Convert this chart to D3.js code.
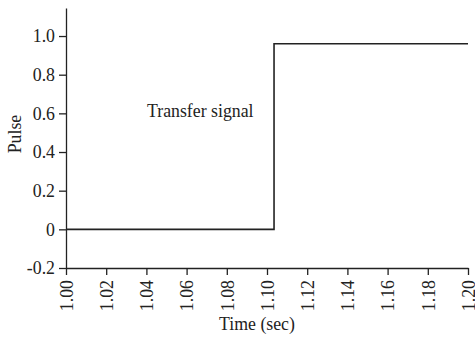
<!DOCTYPE html>
<html>
<head>
<meta charset="utf-8">
<script src="https://cdn.jsdelivr.net/npm/d3@7"></script>
<style>
  html, body { margin: 0; padding: 0; background: #fff; }
  svg { display: block; }
  text { font-family: "Liberation Serif", "Times New Roman", serif; fill: #222; }
</style>
</head>
<body>
<svg id="chart" width="475" height="337"></svg>
<script>
const time = [1.00, 1.1035, 1.20];
const pulse = [0, 0.96, 0.96];
const xTicks = [1.00, 1.02, 1.04, 1.06, 1.08, 1.10, 1.12, 1.14, 1.16, 1.18, 1.20];
const yTicks = [-0.2, 0, 0.2, 0.4, 0.6, 0.8, 1.0];
const xLabel = "Time (sec)";
const yLabel = "Pulse";
const annotation = "Transfer signal";

const svg = d3.select("#chart");
const ink = "#222";
const fs = 17.8;
const x = d3.scaleLinear().domain([1.0, 1.2]).range([66, 468]);
const y = d3.scaleLinear().domain([-0.2, 1.145]).range([268, 8]);

// x axis
const gx = svg.append("g").attr("transform", `translate(0,${y(-0.2)})`)
  .call(d3.axisBottom(x).tickValues(xTicks).tickFormat(d3.format(".2f")).tickSize(7).tickSizeOuter(0));
gx.selectAll("text")
  .attr("x", null).attr("y", null)
  .attr("transform", `translate(0,12) rotate(-90)`)
  .attr("dy", "0.35em")
  .style("text-anchor", "end");

// y axis
const fmtY = d => d === 0 ? "0" : d3.format(".1f")(d).replace("\u2212", "-");
const gy = svg.append("g").attr("transform", `translate(${x(1.0)},0)`)
  .call(d3.axisLeft(y).tickValues(yTicks).tickFormat(fmtY).tickSize(7).tickSizeOuter(0));
gy.selectAll("text").attr("x", -11);

svg.selectAll(".domain, .tick line").attr("stroke", ink).attr("stroke-width", 1.3);
svg.selectAll(".tick text").attr("font-size", fs).attr("font-family", "Liberation Serif").attr("fill", ink);

// step line
const pts = time.map((t, i) => [t, pulse[i]]);
svg.append("path")
  .datum(pts)
  .attr("fill", "none")
  .attr("stroke", ink)
  .attr("stroke-width", 1.6)
  .attr("d", d3.line().x(d => x(d[0])).y(d => y(d[1])).curve(d3.curveStepAfter));

// labels
svg.append("text").attr("x", 257).attr("y", 330).attr("text-anchor", "middle")
  .attr("font-size", fs).text(xLabel);
svg.append("text").attr("transform", `translate(21,134) rotate(-90)`).attr("text-anchor", "middle")
  .attr("font-size", fs).text(yLabel);
svg.append("text").attr("x", 147).attr("y", 117).attr("font-size", fs).text(annotation);
</script>
</body>
</html>
